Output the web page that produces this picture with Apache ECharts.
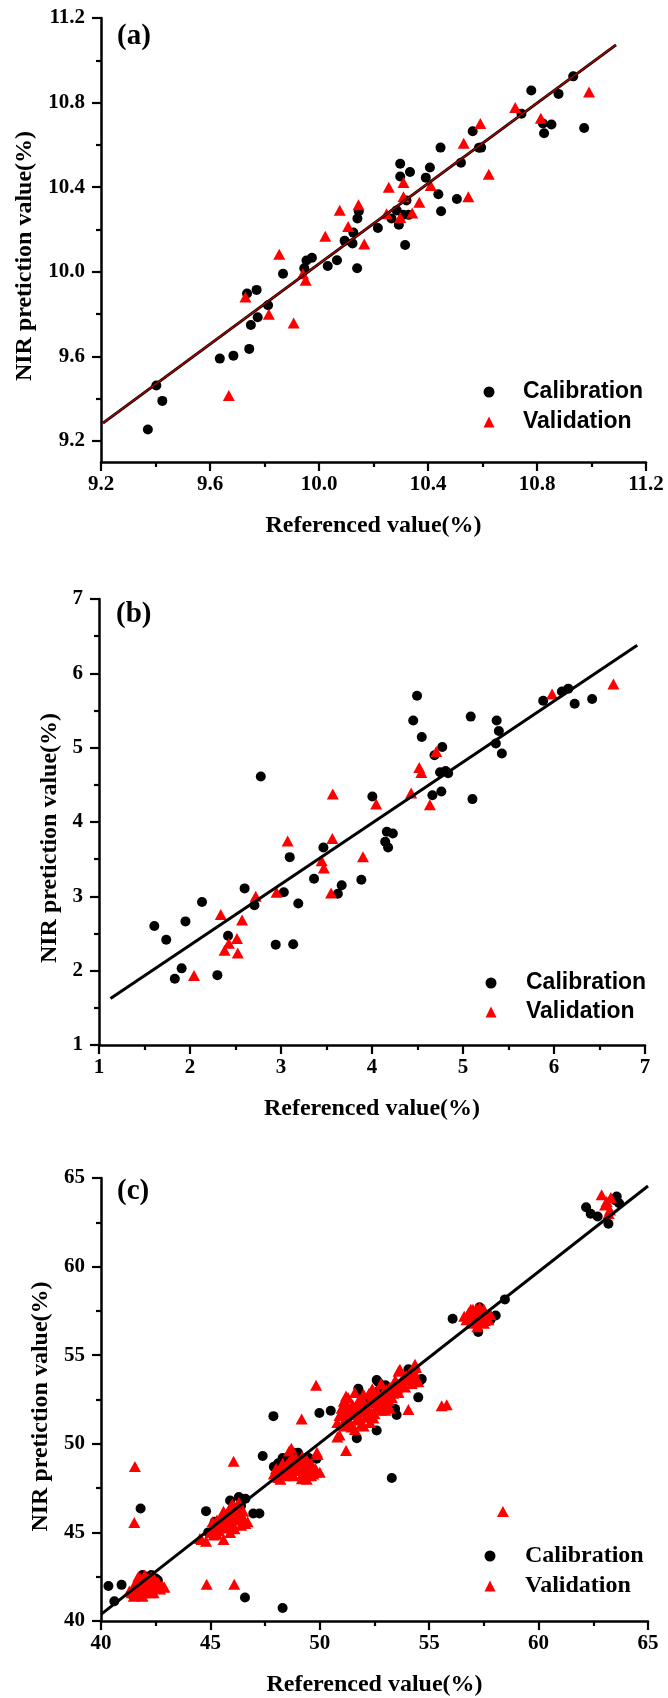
<!DOCTYPE html>
<html>
<head>
<meta charset="utf-8">
<script src="https://cdn.jsdelivr.net/npm/echarts@6/dist/echarts.min.js"></script>
<style>
html,body{margin:0;padding:0;background:#fff;}
#chart{width:668px;height:1698px;}
</style>
</head>
<body>
<div id="chart"></div>
<script>
// ---------- Panel (a) ----------
const calA = [
 [9.372,9.254],[9.403,9.462],[9.425,9.389],[9.636,9.589],[9.686,9.603],[9.744,9.635],[9.750,9.748],
 [9.736,9.897],[9.771,9.914],[9.775,9.785],[9.813,9.841],[9.868,9.990],[9.946,10.016],[9.954,10.053],
 [9.974,10.066],[10.032,10.027],[10.066,10.054],[10.094,10.146],[10.126,10.185],[10.123,10.134],
 [10.140,10.016],[10.141,10.252],[10.146,10.286],[10.216,10.207],[10.266,10.252],[10.285,10.290],
 [10.293,10.222],[10.298,10.511],[10.298,10.450],[10.309,10.269],[10.316,10.126],[10.321,10.337],
 [10.334,10.472],[10.329,10.269],[10.392,10.445],[10.407,10.493],[10.438,10.366],[10.446,10.587],
 [10.448,10.286],[10.506,10.344],[10.521,10.515],[10.564,10.664],[10.587,10.586],[10.595,10.587],
 [10.743,10.747],[10.779,10.857],[10.822,10.701],[10.826,10.655],[10.853,10.696],[10.879,10.841],
 [10.933,10.924],[10.973,10.680]
];
const valA = [
 [9.669,9.415],[9.730,9.880],[9.816,9.799],[9.854,10.083],[9.907,9.757],[9.941,9.990],[9.951,9.960],
 [10.023,10.168],[10.076,10.291],[10.107,10.214],[10.145,10.317],[10.166,10.131],[10.248,10.274],
 [10.256,10.400],[10.298,10.256],[10.310,10.422],[10.310,10.354],[10.342,10.278],[10.368,10.329],
 [10.410,10.408],[10.531,10.608],[10.548,10.354],[10.592,10.701],[10.623,10.461],[10.720,10.777],
 [10.814,10.726],[10.991,10.850]
];
const fitA = [[9.207,9.284],[11.09,11.073]];
const xTicksA = [9.2,9.6,10.0,10.4,10.8,11.2];
const xMinorA = [9.4,9.8,10.2,10.6,11.0];
const yTicksA = [9.2,9.6,10.0,10.4,10.8,11.2];
const yMinorA = [9.4,9.8,10.2,10.6,11.0];

// ---------- Panel (b) ----------
const calB = [
 [1.608,2.601],[1.739,2.417],[1.833,1.892],[1.908,2.031],[1.950,2.663],[2.132,2.924],[2.301,1.940],
 [2.418,2.470],[2.600,3.107],[2.708,2.880],[2.778,4.612],[2.942,2.350],[3.031,3.054],[3.096,3.527],
 [3.134,2.355],[3.190,2.904],[3.363,3.237],[3.466,3.657],[3.625,3.035],[3.667,3.150],[3.883,3.223],
 [4.004,4.342],[4.145,3.734],[4.163,3.869],[4.177,3.657],[4.229,3.845],[4.453,5.365],[4.495,5.698],
 [4.547,5.143],[4.664,4.361],[4.687,4.897],[4.748,4.670],[4.762,4.410],[4.772,5.008],[4.809,4.685],
 [4.837,4.656],[5.085,5.418],[5.104,4.308],[5.361,5.056],[5.370,5.365],[5.394,5.225],[5.427,4.921],
 [5.881,5.630],[6.087,5.755],[6.157,5.794],[6.227,5.591],[6.419,5.654]
];
const valB = [
 [2.044,1.935],[2.338,2.755],[2.380,2.273],[2.427,2.369],[2.516,2.432],[2.525,2.239],[2.572,2.683],
 [2.722,3.001],[2.951,3.054],[3.073,3.744],[3.447,3.479],[3.471,3.382],[3.550,3.044],[3.564,3.778],
 [3.569,4.376],[3.901,3.532],[4.046,4.241],[4.430,4.390],[4.519,4.733],[4.542,4.665],[4.636,4.231],
 [4.706,4.950],[5.979,5.722],[6.653,5.857]
];
const fitB = [[1.126,1.626],[6.915,6.378]];
const xTicksB = [1,2,3,4,5,6,7];
const xMinorB = [1.5,2.5,3.5,4.5,5.5,6.5];
const yTicksB = [1,2,3,4,5,6,7];
const yMinorB = [1.5,2.5,3.5,4.5,5.5,6.5];

// ---------- Panel (c) ----------
const calC = [
 [40.34,41.98],[40.61,41.11],[40.94,42.04],[41.81,46.35],[46.58,41.33],[48.30,40.73],
 [41.9,42.6],[42.3,42.6],[42.5,42.4],[42.1,42.5],[41.4,41.5],[42.6,42.3],[41.7,42.0],
 [44.80,46.20],[46.3,47.0],[46.96,46.07],[47.24,46.07],[46.6,46.9],[45.2,45.6],[45.9,46.8],[46.4,46.5],[44.9,45.0],
 [47.39,49.31],[47.88,51.56],[47.9,48.7],[48.1,48.9],[48.6,49.3],[48.8,49.5],[49.85,49.16],[49.0,49.5],[49.5,49.2],[48.3,49.2],
 [49.98,51.74],[50.5,51.87],[51.69,50.32],[52.6,50.75],[53.44,51.97],[53.51,51.63],[54.58,53.56],[52.68,53.47],
 [51.8,52.9],[52.2,52.6],[53.0,53.3],[52.7,53.0],[54.05,54.21],[52.6,53.6],[51.76,53.1],[54.66,53.65],
 [53.29,48.07],[54.50,52.62],
 [56.07,57.06],[58.46,58.15],[57.24,56.31],[58.04,57.24],[57.71,56.93],[57.3,57.7],[57.8,57.0],
 [62.17,63.35],[62.38,62.98],[62.7,62.83],[63.19,62.42],[63.57,63.95],[63.68,63.58],[63.5,63.75]
];
const valC = [
 [41.4,41.6],[41.5,41.9],[41.6,42.2],[41.6,41.5],[41.7,41.8],[41.8,42.1],[41.8,42.4],[41.9,41.6],
 [42.0,41.9],[42.0,42.2],[42.1,41.7],[42.2,42.0],[42.2,42.3],[42.3,41.8],[42.4,42.1],[42.5,41.9],
 [42.6,42.2],[42.7,41.8],[42.8,42.0],[41.5,41.4],[41.7,42.5],[42.0,42.6],[42.3,42.5],[41.3,41.7],
 [41.9,41.4],[42.4,41.6],[42.9,41.9],
 [41.45,41.75],[41.65,42.0],[41.85,41.85],[42.05,42.05],[42.15,42.4],[42.35,42.2],[42.55,42.05],
 [42.25,41.6],[41.75,41.5],[42.65,41.95],[41.95,42.3],[42.45,42.35],
 [44.6,44.6],[44.8,44.5],[45.6,44.6],[45.0,45.0],[45.2,45.3],[45.3,45.7],[45.4,45.1],[45.5,45.5],
 [45.5,45.9],[45.6,46.2],[45.7,45.3],[45.8,45.7],[45.8,46.0],[45.9,46.4],[46.0,45.5],[46.0,45.9],
 [46.1,46.2],[46.2,45.7],[46.2,46.5],[46.3,46.0],[46.4,45.4],[46.5,45.8],[46.6,45.5],[46.3,46.7],
 [46.7,45.6],[45.4,45.4],[45.1,45.6],[46.0,46.6],[45.3,44.9],[45.9,45.0],[46.1,45.2],[46.5,46.2],
 [45.25,45.45],[45.45,45.75],[45.65,45.95],[45.75,45.55],[45.95,45.75],[46.15,45.95],[46.35,45.75],
 [45.55,45.25],[45.85,46.2],[46.05,46.35],[46.25,46.25],[45.15,44.85],[46.4,46.0],[45.35,45.35],
 [47.9,48.3],[48.0,48.6],[48.1,48.1],[48.2,48.5],[48.3,48.9],[48.4,48.2],[48.5,48.6],[48.6,49.0],
 [48.6,49.6],[48.7,48.4],[48.8,48.8],[48.9,49.2],[49.0,48.5],[49.1,48.9],[49.2,48.3],[49.3,48.7],
 [49.4,49.1],[49.4,48.0],[49.5,48.5],[49.6,48.9],[49.7,48.3],[49.8,48.6],[49.9,49.4],[48.2,48.0],
 [48.8,48.2],[49.2,49.3],[50.0,48.4],
 [48.3,48.45],[48.5,48.85],[48.65,48.3],[48.9,48.6],[49.05,49.05],[49.25,48.55],[49.5,48.8],
 [48.1,48.4],[49.6,48.2],[48.75,49.2],[49.35,48.35],
 [50.8,51.2],[50.9,51.6],[51.0,52.0],[51.1,51.0],[51.1,52.4],[51.2,51.5],[51.3,51.9],[51.3,52.6],
 [51.4,51.2],[51.5,51.7],[51.5,52.2],[51.6,50.8],[51.7,51.4],[51.7,52.0],[51.8,52.5],[51.9,51.1],
 [51.9,51.8],[52.0,52.2],[52.0,52.8],[52.1,51.5],[52.2,51.9],[52.3,52.3],[52.3,51.2],[52.4,52.7],
 [52.5,51.7],[52.6,52.1],[52.7,52.5],[52.8,51.9],[52.9,52.9],[53.0,52.3],[53.1,52.8],[53.2,53.2],
 [53.3,52.6],[53.4,53.0],[53.5,53.4],[53.6,52.9],[53.7,53.3],[53.8,53.7],[53.9,53.2],[54.0,53.6],
 [54.1,54.0],[54.2,53.4],[54.3,53.8],[54.4,54.3],[53.6,54.1],[52.8,53.4],[51.2,52.7],[50.9,50.5],
 [52.0,51.0],[53.0,51.9],[54.5,53.5],[51.6,52.9],[52.4,53.1],[53.2,52.0],
 [51.15,51.3],[51.35,51.65],[51.55,51.95],[51.75,52.25],[51.95,52.5],[52.15,52.05],[52.35,51.75],
 [52.55,52.4],[52.75,52.15],[52.95,52.6],[53.15,52.45],[53.35,52.85],[53.55,53.15],[53.75,53.5],
 [53.95,53.85],[54.15,53.65],[51.45,50.95],[51.85,51.35],[52.25,52.85],[52.65,52.85],[53.05,53.05],
 [51.05,51.8],[51.25,52.2],[53.45,53.6],[54.3,54.1],[52.45,51.45],
 [56.7,57.0],[56.8,57.4],[56.9,56.8],[57.0,57.2],[57.0,57.6],[57.1,56.9],[57.2,57.3],[57.3,57.7],
 [57.3,57.0],[57.4,57.4],[57.5,56.8],[57.6,57.2],[57.7,57.0],[56.9,57.6],[57.2,56.6],[57.5,57.6],
 [57.8,57.3],[56.6,57.2],[56.85,57.15],[57.05,57.45],[57.25,57.05],[57.45,57.15],[57.15,57.6],[57.35,56.85],
 [62.88,64.05],[63.11,63.67],[63.26,63.2],[63.04,63.48],[63.3,63.9],[63.2,63.0],
 [41.55,48.72],[41.52,45.56],[44.83,42.08],[46.09,42.08],[46.06,49.01],[49.83,53.31],[49.17,51.40],
 [55.57,52.15],[55.80,52.21],[54.05,51.93],[51.20,49.62],[50.80,50.38],[58.37,46.18],[48.7,49.75],
 [53.66,54.21],[54.35,54.49],[44.52,44.66],[49.87,49.53],[49.18,48.03],[49.8,48.4]
];
const fitC = [[40,40.37],[65,64.55]];
const xTicksC = [40,45,50,55,60,65];
const xMinorC = [42.5,47.5,52.5,57.5,62.5];
const yTicksC = [40,45,50,55,60,65];
const yMinorC = [42.5,47.5,52.5,57.5,62.5];

const xTitle = 'Referenced value(%)';
const yTitle = 'NIR pretiction value(%)';
const panelLabels = ['(a)','(b)','(c)'];
const legendNames = ['Calibration','Validation'];

// ---------- styling / layout ----------
const SERIF = '"Liberation Serif","Times New Roman",serif';
const SANS = '"Liberation Sans",Arial,sans-serif';

const grids = [
  {left:101, top:18, width:545, height:444},
  {left:99, top:599, width:546, height:446},
  {left:101, top:1178, width:547, height:445}
];

function axisPair(dim, gi, min, max, majors, minors, fmt, nameGap, namePad) {
  const major = {
    type:'value', gridIndex:gi, min:min, max:max,
    position: dim === 'x' ? 'bottom' : 'left',
    axisLine:{show:true, onZero:false, lineStyle:{color:'#000', width:2.5}},
    axisTick:{show:true, inside:false, length:9, customValues:majors, lineStyle:{color:'#000', width:2.2}},
    minorTick:{show:false},
    axisLabel:{show:true, customValues:majors, formatter:fmt, color:'#000',
      fontFamily:SERIF, fontWeight:'bold', fontSize:21, margin: dim === 'x' ? 12 : 16},
    splitLine:{show:false},
    name: dim === 'x' ? xTitle : yTitle,
    nameLocation:'middle', nameGap:nameGap,
    nameTextStyle:{fontFamily:SERIF, fontWeight:'bold', fontSize:24, color:'#000', padding:namePad || 0}
  };
  const minor = {
    type:'value', gridIndex:gi, min:min, max:max,
    position: dim === 'x' ? 'bottom' : 'left', offset:0,
    axisLine:{show:false, onZero:false},
    axisTick:{show:true, inside:false, length:5, customValues:minors, lineStyle:{color:'#000', width:2.2}},
    axisLabel:{show:false},
    splitLine:{show:false}
  };
  return [major, minor];
}

const f1 = v => Number(v).toFixed(1);
const f0 = v => String(Math.round(v));

const xAxes = [
  ...axisPair('x',0,9.2,11.2,xTicksA,xMinorA,f1,52),
  ...axisPair('x',1,1,7,xTicksB,xMinorB,f0,52),
  ...axisPair('x',2,40,65,xTicksC,xMinorC,f0,52)
];
const yAxes = [
  ...axisPair('y',0,9.1,11.2,yTicksA,yMinorA,f1,64,[0,32,0,0]),
  ...axisPair('y',1,1,7,yTicksB,yMinorB,f0,37,[0,32,0,0]),
  ...axisPair('y',2,40,65,yTicksC,yMinorC,f0,45,[0,14,0,0])
];

function scatter(name, data, ai, shape) {
  return {
    name:name, type:'scatter', xAxisIndex:ai, yAxisIndex:ai, data:data,
    symbol: shape === 'circle' ? 'circle' : 'triangle',
    symbolSize: shape === 'circle' ? 10 : [12,11],
    itemStyle:{color: shape === 'circle' ? '#000000' : '#ff0000', opacity:1},
    z: shape === 'circle' ? 2 : 3, silent:true
  };
}
function fitLine(data, ai, color, w, z) {
  return {
    type:'line', xAxisIndex:ai, yAxisIndex:ai, data:data, symbol:'none', showSymbol:false,
    lineStyle:{color:color, width:w}, z:z, silent:true
  };
}

const series = [
  scatter(legendNames[0], calA, 0, 'circle'),
  scatter(legendNames[1], valA, 0, 'tri'),
  fitLine(fitA, 0, '#000', 3, 5),
  fitLine(fitA, 0, '#c00000', 1.2, 6),
  scatter(legendNames[0], calB, 2, 'circle'),
  scatter(legendNames[1], valB, 2, 'tri'),
  fitLine(fitB, 2, '#000', 3, 5),
  scatter(legendNames[0], calC, 4, 'circle'),
  scatter(legendNames[1], valC, 4, 'tri'),
  fitLine(fitC, 4, '#000', 3, 5)
];

function legend(left, top, gap, family, weight, size, pad) {
  return {
    orient:'vertical', left:left, top:top, padding:0, itemWidth:11, itemHeight:11, itemGap:gap,
    selectedMode:false,
    data:[{name:legendNames[0], icon:'circle'},{name:legendNames[1], icon:'triangle'}],
    textStyle:{fontFamily:family, fontWeight:weight, fontSize:size, color:'#000', lineHeight:24, padding:[0,0,0,pad]}
  };
}

const option = {
  animation:false,
  backgroundColor:'#ffffff',
  grid: grids,
  xAxis: xAxes,
  yAxis: yAxes,
  legend: [
    legend(483.5, 380, 6, SANS, 'bold', 23, 23.5),
    legend(485.5, 971, 5, SANS, 'bold', 23, 24.5),
    legend(484.5, 1544, 6, SERIF, 'bold', 24, 24.5)
  ],
  graphic: [
    {type:'text', left:117, top:22, style:{text:panelLabels[0], font:'bold 29px ' + SERIF, fill:'#000'}},
    {type:'text', left:116, top:600, style:{text:panelLabels[1], font:'bold 29px ' + SERIF, fill:'#000'}},
    {type:'text', left:117, top:1177, style:{text:panelLabels[2], font:'bold 29px ' + SERIF, fill:'#000'}}
  ],
  series: series
};

const chart = echarts.init(document.getElementById('chart'), null, {renderer:'canvas'});
chart.setOption(option);
</script>
</body>
</html>
